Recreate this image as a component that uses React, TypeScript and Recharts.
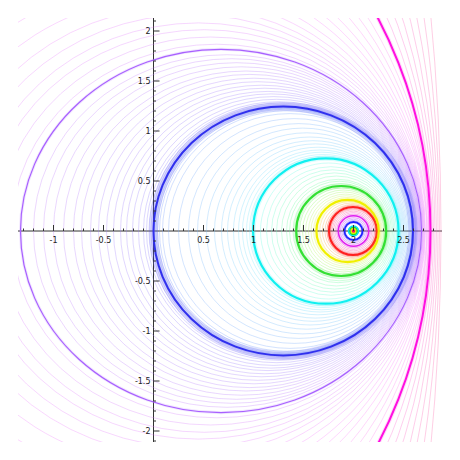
import { ScatterChart, Scatter, XAxis, YAxis, ZAxis, ReferenceLine, ReferenceDot } from "recharts";

// each contour: [left x-intercept, right x-intercept, half height]
type Contour = [number, number, number];

const THICK: Contour[] = [
  [1.988, 2.012, 0.012],
  [1.975, 2.025, 0.025],
  [1.962, 2.038, 0.038],
  [1.95, 2.05, 0.05],
  [1.91, 2.09, 0.09],
  [1.848, 2.152, 0.152],
  [1.755, 2.234, 0.24],
  [1.629, 2.253, 0.312],
  [1.427, 2.327, 0.45],
  [0.996, 2.45, 0.727],
  [0.0, 2.595, 1.244],
  [-1.33, 2.68, 1.817],
  [-6.37, 2.77, 4.57],
];
const THICK_COLORS = [
  "#ff1050", "#eeee00", "#22dd22", "#00e0f0", "#2222ff", "#e020f0", "#ff2020",
  "#f0f000", "#33e033", "#10f0f0", "#3030ee", "#a860ff", "#ff10e0",
];
const THICK_WIDTHS = [3, 1.5, 1.5, 1.5, 1.8, 1.6, 2.2, 2.2, 2.2, 2.2, 2, 1.2, 2];
const THICK_GLOW = [0, 0, 0, 0, 3, 4, 5, 5, 5, 5, 9, 3, 4];

const INNER_VIOLET: Contour[] = [
  [1.895, 2.105, 0.105], [1.882, 2.118, 0.118], [1.868, 2.132, 0.132],
];
const INNER_PINK: Contour[] = [
  [1.831, 2.169, 0.169], [1.816, 2.183, 0.184], [1.801, 2.197, 0.198],
  [1.787, 2.211, 0.212], [1.772, 2.223, 0.226],
];
const PEACH: Contour[] = [
  [1.735, 2.237, 0.251], [1.715, 2.241, 0.263], [1.689, 2.245, 0.278], [1.662, 2.249, 0.294],
];
const LIME: Contour[] = [
  [1.6, 2.267, 0.334], [1.575, 2.278, 0.352], [1.55, 2.288, 0.369],
  [1.52, 2.3, 0.39], [1.49, 2.311, 0.41], [1.46, 2.322, 0.431],
];
const MINT: Contour[] = [
  [1.395, 2.345, 0.475], [1.36, 2.356, 0.498], [1.33, 2.365, 0.517], [1.28, 2.379, 0.55],
  [1.23, 2.392, 0.581], [1.18, 2.405, 0.612], [1.13, 2.417, 0.643], [1.07, 2.43, 0.68],
];
const SKY: Contour[] = [
  [0.96, 2.458, 0.748], [0.93, 2.464, 0.765], [0.89, 2.472, 0.788], [0.85, 2.48, 0.81],
  [0.8, 2.489, 0.838], [0.74, 2.499, 0.871], [0.68, 2.509, 0.903], [0.61, 2.52, 0.94],
  [0.53, 2.532, 0.982], [0.44, 2.545, 1.029], [0.35, 2.556, 1.074], [0.25, 2.568, 1.124],
  [0.15, 2.58, 1.174], [0.09, 2.586, 1.203], [0.06, 2.59, 1.218], [0.04, 2.591, 1.227],
  [0.025, 2.593, 1.234], [0.012, 2.594, 1.24],
];
const LAVENDER: Contour[] = [
  [-0.012, 2.597, 1.251], [-0.025, 2.598, 1.258], [-0.045, 2.6, 1.267], [-0.07, 2.602, 1.279],
  [-0.1, 2.605, 1.293], [-0.15, 2.61, 1.317], [-0.21, 2.615, 1.344], [-0.27, 2.62, 1.371],
  [-0.33, 2.62, 1.396], [-0.4, 2.625, 1.428], [-0.47, 2.63, 1.458], [-0.55, 2.635, 1.493],
  [-0.63, 2.64, 1.528], [-0.72, 2.645, 1.566], [-0.8, 2.65, 1.6], [-0.9, 2.655, 1.642],
  [-1.0, 2.66, 1.683], [-1.1, 2.665, 1.723], [-1.2, 2.67, 1.763],
];
const LILAC: Contour[] = [
  [-1.42, 2.685, 1.868], [-1.55, 2.69, 1.94], [-1.68, 2.695, 2.013], [-1.8, 2.7, 2.081],
  [-1.95, 2.705, 2.165], [-2.1, 2.71, 2.249], [-2.3, 2.715, 2.357], [-2.55, 2.72, 2.493],
  [-2.85, 2.73, 2.656], [-3.2, 2.735, 2.843], [-3.6, 2.74, 3.059], [-4.1, 2.75, 3.329],
  [-4.7, 2.755, 3.653], [-5.4, 2.76, 4.039],
];
const PINK: Contour[] = [
  [-7.785, 2.785, 5.285], [-9.4, 2.8, 6.1], [-11.415, 2.815, 7.115], [-14.43, 2.83, 8.63],
  [-18.845, 2.845, 10.845], [-26.86, 2.86, 14.86], [-42.875, 2.875, 22.875],
];

const BANDS = [INNER_VIOLET, INNER_PINK, PEACH, LIME, MINT, SKY, LAVENDER, LILAC, PINK];
const BAND_HUES: [number, number][] = [
  [250, 290], [310, 355], [10, 50], [65, 115], [125, 175], [185, 235], [240, 275], [280, 310], [315, 335],
];
const BAND_OPACITY = [0.7, 0.65, 0.65, 0.55, 0.5, 0.45, 0.42, 0.42, 0.5];

const X_LABELS = [-1, -0.5, 0.5, 1, 1.5, 2, 2.5];
const Y_LABELS = [-2, -1.5, -1, -0.5, 0.5, 1, 1.5, 2];

const W = 460;
const H = 460;
const PAD = 18;
const X_DOMAIN: [number, number] = [-1.355, 2.885];
const Y_DOMAIN: [number, number] = [-2.11, 2.13];
const PX = (W - 2 * PAD) / (X_DOMAIN[1] - X_DOMAIN[0]);
const Z_MAX = 1000;
const FONT = "DejaVu Sans, sans-serif";

const xMinor: number[] = [];
for (let i = -13; i <= 28; i++) if (i % 5 !== 0) xMinor.push(i / 10);
const yMinor: number[] = [];
for (let i = -21; i <= 21; i++) if (i % 5 !== 0) yMinor.push(i / 10);

const toRows = (list: Contour[]) =>
  list.map(([l, r, h], i) => ({
    cx: (l + r) / 2,
    cy: 0,
    rx: (r - l) / 2,
    z: ((r - l) / 2) ** 2,
    h,
    t: (i + 1) / (list.length + 1),
  }));

const ring = (stroke: (t: number) => string, width: number, opacity: number, glow = 0) => (p: any) => {
  const rx = p.width / 2;
  const ry = (rx * p.payload.h) / p.payload.rx;
  const color = stroke(p.payload.t);
  return (
    <g>
      {glow > 0 && (
        <ellipse cx={p.cx} cy={p.cy} rx={rx} ry={ry} fill="none" stroke={color} strokeWidth={glow} strokeOpacity={0.16} />
      )}
      <ellipse
        cx={p.cx}
        cy={p.cy}
        rx={rx}
        ry={ry}
        fill="none"
        stroke={color}
        strokeWidth={width}
        strokeOpacity={opacity}
      />
    </g>
  );
};

export default function App() {
  return (
    <div style={{ position: "absolute", left: 0, top: 0, background: "#fff" }}>
      <ScatterChart width={W} height={H} margin={{ top: PAD, right: PAD, bottom: PAD, left: PAD }}>
        <XAxis type="number" dataKey="cx" domain={X_DOMAIN} allowDataOverflow hide />
        <YAxis type="number" dataKey="cy" domain={Y_DOMAIN} allowDataOverflow hide />
        <ZAxis type="number" dataKey="z" domain={[0, Z_MAX]} range={[0, Z_MAX * Math.PI * PX * PX]} />

        {BANDS.map((band, b) => (
          <Scatter
            key={`band-${b}`}
            data={toRows(band)}
            isAnimationActive={false}
            shape={ring(
              (t) => `hsl(${BAND_HUES[b][0] + (BAND_HUES[b][1] - BAND_HUES[b][0]) * t}, 95%, 72%)`,
              0.7,
              BAND_OPACITY[b]
            )}
          />
        ))}

        {THICK.map((c, i) => (
          <Scatter
            key={`thick-${i}`}
            data={toRows([c])}
            isAnimationActive={false}
            shape={ring(() => THICK_COLORS[i], THICK_WIDTHS[i], 1, THICK_GLOW[i])}
          />
        ))}

        <ReferenceLine y={0} stroke="#333" strokeWidth={1} />
        <ReferenceLine x={0} stroke="#333" strokeWidth={1} />

        {xMinor.map((v) => (
          <ReferenceDot
            key={`xm${v}`}
            x={v}
            y={0}
            r={0}
            shape={(p: any) => <line x1={p.cx} x2={p.cx} y1={p.cy} y2={p.cy - 2.5} stroke="#333" />}
          />
        ))}
        {yMinor.map((v) => (
          <ReferenceDot
            key={`ym${v}`}
            x={0}
            y={v}
            r={0}
            shape={(p: any) => <line x1={p.cx} x2={p.cx + 2.5} y1={p.cy} y2={p.cy} stroke="#333" />}
          />
        ))}
        {X_LABELS.map((v) => (
          <ReferenceDot
            key={`xl${v}`}
            x={v}
            y={0}
            r={0}
            shape={(p: any) => (
              <g>
                <line x1={p.cx} x2={p.cx} y1={p.cy} y2={p.cy - 6} stroke="#333" />
                <text x={p.cx} y={p.cy + 12} textAnchor="middle" fontSize={8} fontFamily={FONT} fill="#222">
                  {v}
                </text>
              </g>
            )}
          />
        ))}
        {Y_LABELS.map((v) => (
          <ReferenceDot
            key={`yl${v}`}
            x={0}
            y={v}
            r={0}
            shape={(p: any) => (
              <g>
                <line x1={p.cx} x2={p.cx + 6} y1={p.cy} y2={p.cy} stroke="#333" />
                <text x={p.cx - 3} y={p.cy + 3} textAnchor="end" fontSize={8} fontFamily={FONT} fill="#222">
                  {v}
                </text>
              </g>
            )}
          />
        ))}
      </ScatterChart>
    </div>
  );
}
